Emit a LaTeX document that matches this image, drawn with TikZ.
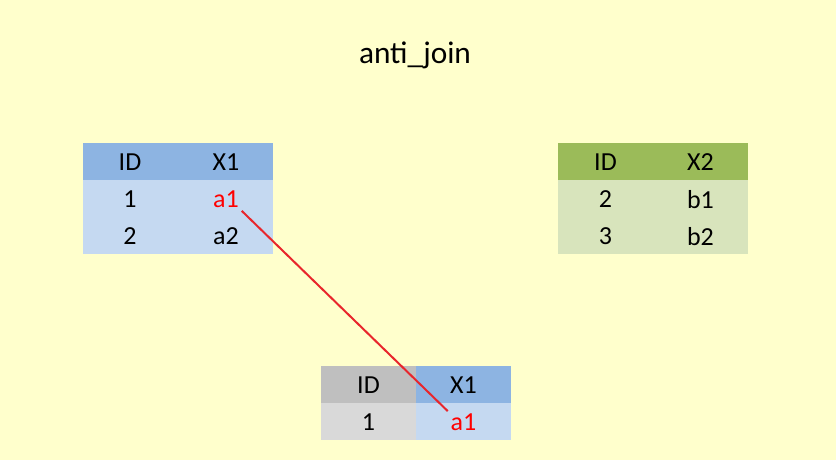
\documentclass[tikz,border=0pt]{standalone}
\usepackage{fontspec}
\setmainfont{Carlito}
\definecolor{bgyellow}{HTML}{FFFFCC}
\definecolor{blueH}{HTML}{8DB4E2}
\definecolor{blueR}{HTML}{C5D9F1}
\definecolor{greenH}{HTML}{9BBB59}
\definecolor{greenR}{HTML}{D8E4BC}
\definecolor{grayH}{HTML}{BFBFBF}
\definecolor{grayR}{HTML}{D9D9D9}
\definecolor{matchred}{HTML}{FF0000}
\definecolor{linered}{HTML}{E8262C}
\tikzset{
  cell/.style={inner sep=2pt, font=\fontsize{19.5pt}{21pt}\selectfont},
  hit/.style={cell, text=matchred}
}
\begin{document}
\begin{tikzpicture}[x=0.75pt,y=-0.75pt]

	%%% background
    \fill[bgyellow] (0,0) rectangle (836,460);
    \useasboundingbox (0,0) rectangle (836,460);

    \node (title) at (415,55) {\fontsize{23.5pt}{25pt}\selectfont anti\_join};

	%%% left table
    \fill[blueH] (83,143) rectangle (273,180);
    \fill[blueR] (83,180) rectangle (273,254);

    \node[cell] (L11) at (130,162.5) {ID};
    \node[cell] (L12) at (226,162.5) {X1};
    \node[cell] (L21) at (130,199.5) {1};
    \node[hit]  (L22) at (226,199.5) {a1};
    \node[cell] (L31) at (130,236.5) {2};
    \node[cell] (L32) at (226,236.5) {a2};

	%%% right table
    \fill[greenH] (558,143) rectangle (748,180);
    \fill[greenR] (558,180) rectangle (748,254);

    \node[cell] (R11) at (605.5,162.5) {ID};
    \node[cell] (R12) at (700.5,162.5) {X2};
    \node[cell] (R21) at (605.5,199.5) {2};
    \node[cell] (R22) at (700.5,199.5) {b1};
    \node[cell] (R31) at (605.5,236.5) {3};
    \node[cell] (R32) at (700.5,236.5) {b2};

	%%% result
    \fill[grayH] (321,366) rectangle (416,403);
    \fill[blueH] (416,366) rectangle (511,403);
    \fill[grayR] (321,403) rectangle (416,440);
    \fill[blueR] (416,403) rectangle (511,440);

    \node[cell] (B11) at (368.5,385.5) {ID};
    \node[cell] (B12) at (463.5,385.5) {X1};
    \node[cell] (B21) at (368.5,422.5) {1};
    \node[hit]  (B22) at (463.5,422.5) {a1};

	%%% match
    \draw[linered, line width=1.5pt] (L22.south east) -- (B22.north west);

\end{tikzpicture}
\end{document}
